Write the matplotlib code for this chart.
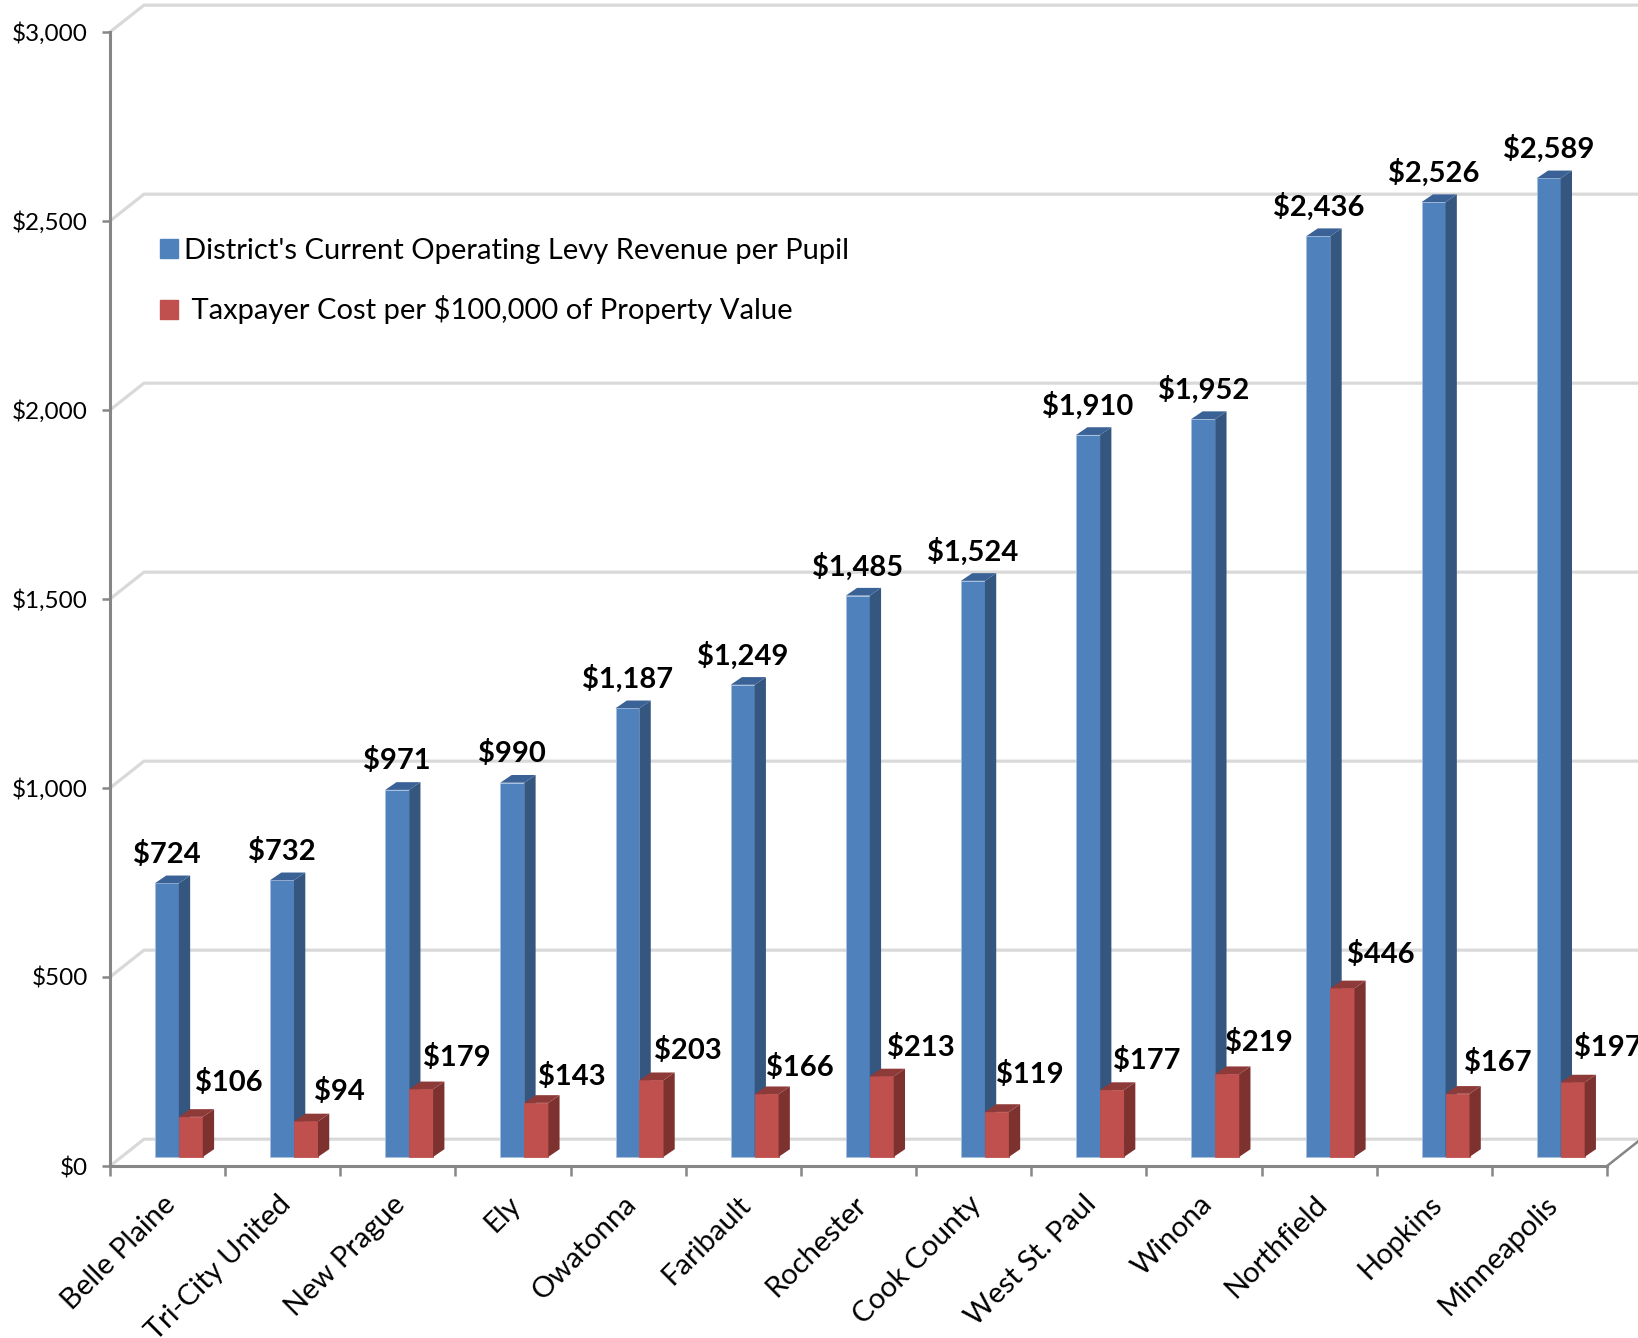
import matplotlib
matplotlib.use("Agg")
import matplotlib.pyplot as plt
import numpy as np

plt.rcParams['font.family'] = ['Lato', 'DejaVu Sans']

# Data
districts = ['Belle Plaine', 'Tri-City United', 'New Prague', 'Ely', 'Owatonna', 'Faribault',
             'Rochester', 'Cook County', 'West St. Paul', 'Winona', 'Northfield', 'Hopkins', 'Minneapolis']
levy = [724, 732, 971, 990, 1187, 1249, 1485, 1524, 1910, 1952, 2436, 2526, 2589]
cost = [106, 94, 179, 143, 203, 166, 213, 119, 177, 219, 446, 167, 197]
yticks = [0, 500, 1000, 1500, 2000, 2500, 3000]

# label nudges for the red bars (pixels)
cost_dx = [38, 33, 36, 36, 36, 33, 39, 33, 35, 32, 38, 40, 35]
cost_dy = [34, 30, 32, 26, 30, 27, 29, 37, 30, 32, 34, 31, 35]

W, H = 1638, 1338
fig = plt.figure(figsize=(W / 100, H / 100), dpi=100)
ax = fig.add_axes([110 / W, (H - 1166) / H, 1497 / W, 1134 / H])
ax.set_xlim(0, 13)
ax.set_ylim(0, 3000)

GRID = '#d9d9d9'
AXIS = '#868686'
wall_dx, wall_dy = 0.295, 71
floor_y = 24
bar_w, bar_off = 0.208, 0.39
depth_x, depth_y = 0.098, 20.4


def draw_bar(x, v, front, side, top, z):
    ax.bar(x, v, width=bar_w, bottom=floor_y, align='edge', color=front, zorder=z,
           edgecolor='#a9c1e0' if front == '#4f81bd' else front, linewidth=0.6)
    t = floor_y + v
    # side face
    ax.fill([x + bar_w, x + bar_w + depth_x, x + bar_w + depth_x, x + bar_w],
            [floor_y, floor_y + depth_y, t + depth_y, t], color=side, lw=0, zorder=z)
    # top face
    ax.fill([x, x + depth_x, x + bar_w + depth_x, x + bar_w],
            [t, t + depth_y, t + depth_y, t], color=top, lw=0, zorder=z)


# back wall gridlines
for y in yticks:
    ax.plot([0, wall_dx, 13.4], [y, y + wall_dy, y + wall_dy], color=GRID, lw=2.3, zorder=1,
            clip_on=False, solid_joinstyle='miter')
ax.plot([13, 13 + wall_dx], [0, wall_dy], color=AXIS, lw=1.8, zorder=1, clip_on=False)

for i in range(len(districts)):
    xb = i + bar_off
    xr = xb + bar_w
    draw_bar(xb, levy[i], '#4f81bd', '#34567f', '#3a6296', 3 + i * 0.01)
    draw_bar(xr, cost[i], '#c0504d', '#7d3230', '#8e3a38', 4 + i * 0.01)
    ax.annotate('${:,}'.format(levy[i]), (xb + bar_w / 2, floor_y + levy[i]), xytext=(0, 29 * 0.72),
                textcoords='offset points', ha='center', va='center', fontsize=21, fontweight='bold',
                color='black', annotation_clip=False, zorder=6)
    ax.annotate('${:,}'.format(cost[i]), (xr + bar_w / 2, floor_y + cost[i]),
                xytext=(cost_dx[i] * 0.72, cost_dy[i] * 0.72), textcoords='offset points',
                ha='center', va='center', fontsize=21, fontweight='bold', color='black',
                annotation_clip=False, zorder=6)
    ax.annotate(districts[i], (i + 0.5, 0), xytext=(-4, -18), textcoords='offset points',
                rotation=45, rotation_mode='anchor', ha='right', va='top', fontsize=21,
                color='black', annotation_clip=False)

# axes
for s in ['top', 'right']:
    ax.spines[s].set_visible(False)
for s in ['left', 'bottom']:
    ax.spines[s].set_color(AXIS)
    ax.spines[s].set_linewidth(2.2)
    ax.spines[s].set_zorder(2)
ax.patch.set_alpha(0)
ax.set_yticks(yticks)
ax.set_yticklabels(['${:,}'.format(y) for y in yticks])
ax.set_xticks(np.arange(14))
ax.set_xticklabels([])
ax.tick_params(axis='y', length=6, width=1.8, color=AXIS, labelsize=17.5, pad=10)
ax.tick_params(axis='x', length=7, width=1.8, color=AXIS)

# legend
h1 = plt.Rectangle((0, 0), 1, 1, color='#4f81bd')
h2 = plt.Rectangle((0, 0), 1, 1, color='#c0504d')
ax.legend([h1, h2], ["District's Current Operating Levy Revenue per Pupil",
                     " Taxpayer Cost per $100,000 of Property Value"],
          loc='upper left', bbox_to_anchor=(160 / W, (H - 238) / H), bbox_transform=fig.transFigure,
          frameon=False, fontsize=21, handlelength=0.62, handleheight=0.62, handletextpad=0.2,
          labelspacing=1.08, borderpad=0, borderaxespad=0)

plt.savefig('out.png', dpi=100)
